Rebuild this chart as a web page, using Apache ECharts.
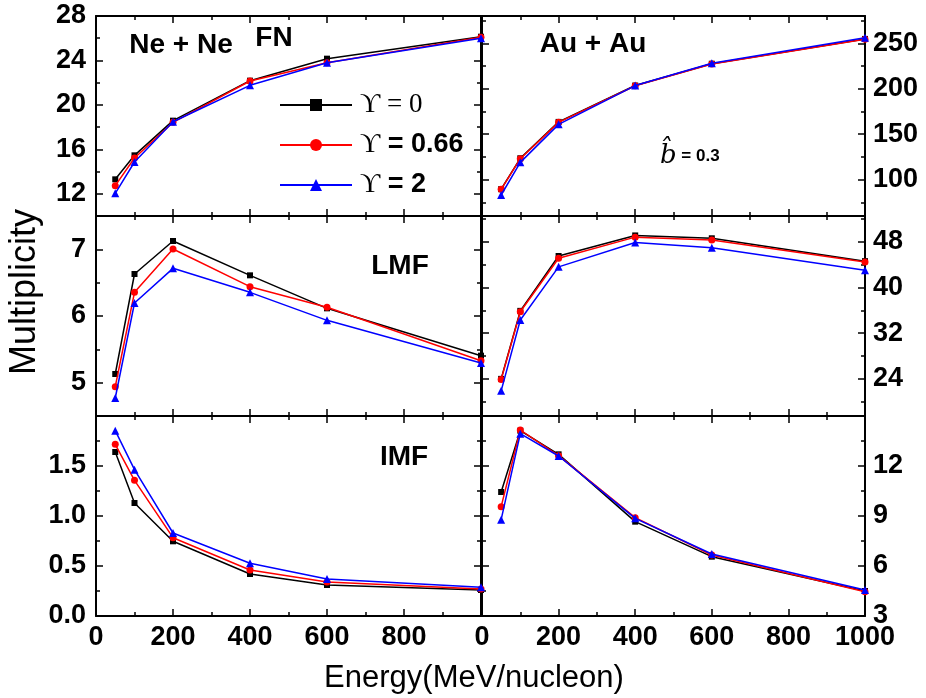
<!DOCTYPE html>
<html><head><meta charset="utf-8">
<script src="https://cdn.jsdelivr.net/npm/echarts@6/dist/echarts.min.js"></script>
<style>html,body{margin:0;padding:0;background:#fff}#c{width:926px;height:698px}</style>
</head><body><div id="c"></div>
<script>
// ---------------- data ----------------
const energy = [50, 100, 200, 400, 600, 1000];
const seriesNames = ['ϒ = 0', 'ϒ = 0.66', 'ϒ = 2'];
const seriesColors = ['#000000', '#ff0000', '#0000ff'];
const seriesSymbols = ['rect', 'circle', 'triangle'];

// Ne + Ne (left column)
const neFN_u0    = [13.3, 15.46, 18.58, 22.18, 24.16, 26.14];
const neFN_u066  = [12.73, 15.22, 18.43, 22.15, 23.8, 26.08];
const neFN_u2    = [12.04, 14.86, 18.48, 21.76, 23.8, 26.0];
const neLMF_u0   = [5.13, 6.63, 7.125, 6.61, 6.115, 5.405];
const neLMF_u066 = [4.94, 6.355, 7.005, 6.44, 6.13, 5.33];
const neLMF_u2   = [4.77, 6.195, 6.715, 6.355, 5.935, 5.295];
const neIMF_u0   = [1.64, 1.13, 0.747, 0.42, 0.31, 0.26];
const neIMF_u066 = [1.717, 1.357, 0.783, 0.46, 0.34, 0.27];
const neIMF_u2   = [1.853, 1.463, 0.83, 0.527, 0.37, 0.287];

// Au + Au (right column)
const auFN_u0    = [89.5, 123.5, 163.5, 203.5, 227.5, 254.8];
const auFN_u066  = [89.3, 123, 163, 203.3, 227.3, 254.3];
const auFN_u2    = [83.1, 119, 160.8, 203.5, 228, 256];
const auLMF_u0   = [24.0, 35.9, 45.5, 49.1, 48.6, 44.6];
const auLMF_u066 = [23.9, 35.75, 45.1, 48.8, 48.3, 44.45];
const auLMF_u2   = [21.9, 34.3, 43.6, 47.85, 46.95, 43.0];
const auIMF_u0   = [10.44, 14.12, 12.7, 8.66, 6.56, 4.5];
const auIMF_u066 = [9.56, 14.16, 12.62, 8.9, 6.66, 4.46];
const auIMF_u2   = [8.78, 13.94, 12.6, 8.86, 6.72, 4.56];

// axis ticks
const xTicksLeft  = [0, 200, 400, 600, 800];
const xTicksRight = [0, 200, 400, 600, 800, 1000];
const yMajorNeFN  = [12, 16, 20, 24, 28];     const yMinorNeFN  = [10, 14, 18, 22, 26];
const yMajorNeLMF = [5, 6, 7];                const yMinorNeLMF = [4.5, 5.5, 6.5, 7.5];
const yMajorNeIMF = [0, 0.5, 1.0, 1.5];       const yMinorNeIMF = [0.25, 0.75, 1.25, 1.75];
const yMajorAuFN  = [100, 150, 200, 250];     const yMinorAuFN  = [75, 125, 175, 225, 275];
const yMajorAuLMF = [24, 32, 40, 48];         const yMinorAuLMF = [20, 28, 36, 44, 52];
const yMajorAuIMF = [3, 6, 9, 12];            const yMinorAuIMF = [4.5, 7.5, 10.5, 13.5];
const yRange = {
  neFN: [10, 28], neLMF: [4.5, 7.5], neIMF: [0, 2],
  auFN: [60, 280], auLMF: [17.5, 52.5], auIMF: [3, 15]
};

// ---------------- build ----------------
const panels = [
  {col: 0, row: 0, key: 'neFN',  data: [neFN_u0, neFN_u066, neFN_u2],   major: yMajorNeFN,  minor: yMinorNeFN,  fmt: v => String(v)},
  {col: 1, row: 0, key: 'auFN',  data: [auFN_u0, auFN_u066, auFN_u2],   major: yMajorAuFN,  minor: yMinorAuFN,  fmt: v => String(v)},
  {col: 0, row: 1, key: 'neLMF', data: [neLMF_u0, neLMF_u066, neLMF_u2], major: yMajorNeLMF, minor: yMinorNeLMF, fmt: v => String(v)},
  {col: 1, row: 1, key: 'auLMF', data: [auLMF_u0, auLMF_u066, auLMF_u2], major: yMajorAuLMF, minor: yMinorAuLMF, fmt: v => String(v)},
  {col: 0, row: 2, key: 'neIMF', data: [neIMF_u0, neIMF_u066, neIMF_u2], major: yMajorNeIMF, minor: yMinorNeIMF, fmt: v => Number(v).toFixed(1)},
  {col: 1, row: 2, key: 'auIMF', data: [auIMF_u0, auIMF_u066, auIMF_u2], major: yMajorAuIMF, minor: yMinorAuIMF, fmt: v => String(v)}
];

const colLeft = [96, 482], colWidth = [385, 383];
const rowTop = [16, 216, 416], rowHeight = 200;
const lineSt = {color: '#000', width: 2};
const tickSt = {color: '#000', width: 1.5};
const labelFont = {color: '#000', fontSize: 27, fontWeight: 'bold', fontFamily: 'Liberation Sans, Arial, sans-serif'};

const grid = [], xAxis = [], yAxis = [], series = [];
panels.forEach((p, gi) => {
  grid.push({left: colLeft[p.col], top: rowTop[p.row], width: colWidth[p.col], height: rowHeight, containLabel: false});
  const bottomRow = p.row === 2;
  ['bottom', 'top'].forEach(pos => {
    xAxis.push({
      type: 'value', gridIndex: gi, position: pos, min: 0, max: 1000, interval: 200,
      axisLine: {show: true, onZero: false, lineStyle: lineSt},
      axisTick: {show: true, inside: true, length: 7, lineStyle: tickSt},
      minorTick: {show: true, splitNumber: 2, length: 4, lineStyle: tickSt},
      axisLabel: (pos === 'bottom' && bottomRow)
        ? Object.assign({show: true, margin: 8, customValues: p.col === 0 ? xTicksLeft : xTicksRight, formatter: v => String(v)}, labelFont)
        : {show: false},
      splitLine: {show: false}, minorSplitLine: {show: false}
    });
  });
  const [mn, mx] = yRange[p.key];
  const labelSide = p.col === 0 ? 'left' : 'right';
  const yStart = yAxis.length;
  ['left', 'right'].forEach(pos => {
    yAxis.push({
      type: 'value', gridIndex: gi, position: pos, min: mn, max: mx,
      axisLine: {show: true, onZero: false, lineStyle: lineSt},
      axisTick: {show: true, inside: true, length: 7, lineStyle: tickSt, customValues: p.major},
      axisLabel: pos === labelSide
        ? Object.assign({show: true, margin: pos === 'left' ? 10 : 8, customValues: p.major, formatter: p.fmt}, labelFont)
        : {show: false},
      splitLine: {show: false}
    });
    yAxis.push({
      type: 'value', gridIndex: gi, position: pos, min: mn, max: mx,
      axisLine: {show: false, onZero: false},
      axisTick: {show: true, inside: true, length: 4, lineStyle: tickSt, customValues: p.minor},
      axisLabel: {show: false},
      splitLine: {show: false}
    });
  });
  p.data.forEach((vals, si) => {
    series.push({
      type: 'line', name: seriesNames[si], xAxisIndex: gi * 2, yAxisIndex: yStart,
      data: energy.map((x, i) => [x, vals[i]]),
      symbol: seriesSymbols[si], symbolSize: si === 2 ? 8 : (si === 1 ? 7 : 6),
      showSymbol: true, clip: false,
      lineStyle: {width: 1.5, color: seriesColors[si]},
      itemStyle: {color: seriesColors[si]},
      emphasis: {disabled: true},
      animation: false, z: 2 + si
    });
  });
});

const boldSans = 'Liberation Sans, Arial, sans-serif';
function txt(text, x, y, size, weight) {
  return {type: 'text', x: x, y: y, style: {text: text, fill: '#000', font: weight + ' ' + size + 'px ' + boldSans, textAlign: 'center', textVerticalAlign: 'middle'}};
}

const option = {
  animation: false,
  backgroundColor: '#fff',
  grid, xAxis, yAxis, series,
  legend: {
    show: true, orient: 'vertical', left: 274, top: 86,
    itemWidth: 72, itemHeight: 15, itemGap: 12,
    data: seriesNames, selectedMode: false,
    formatter: name => {
      const rest = name.slice(1);
      return name === seriesNames[0] ? '{u|ϒ}{r|' + rest + '}' : '{u|ϒ}{b|' + rest + '}';
    },
    textStyle: {
      padding: [0, 0, 0, 3],
      rich: {
        u: {fontFamily: 'Liberation Serif, DejaVu Serif, serif', fontSize: 28, color: '#000', lineHeight: 28},
        r: {fontFamily: 'Liberation Serif, DejaVu Serif, serif', fontSize: 27, color: '#000', lineHeight: 28},
        b: {fontFamily: boldSans, fontSize: 27, fontWeight: 'bold', color: '#000', lineHeight: 28}
      }
    }
  },
  graphic: [
    txt('Ne + Ne', 181, 45, 28, 'bold'),
    txt('FN', 274, 38, 28, 'bold'),
    txt('Au + Au', 593, 44, 28, 'bold'),
    txt('LMF', 400, 266, 28, 'bold'),
    txt('IMF', 404, 457, 28, 'bold'),
    {type: 'text', x: 25, y: 292, rotation: Math.PI / 2,
     style: {text: 'Multiplicity', fill: '#000', font: 'normal 36px ' + boldSans, textAlign: 'center', textVerticalAlign: 'middle'}},
    {type: 'text', x: 474, y: 678,
     style: {text: 'Energy(MeV/nucleon)', fill: '#000', font: 'normal 31px ' + boldSans, textAlign: 'center', textVerticalAlign: 'middle'}},
    {type: 'text', x: 660, y: 156,
     style: {text: '{i|b\u0302}{t| = 0.3}', fill: '#000', textVerticalAlign: 'middle',
       rich: {i: {fontFamily: 'DejaVu Serif, serif', fontStyle: 'italic', fontSize: 26, fill: '#000'},
              t: {fontFamily: boldSans, fontWeight: 'bold', fontSize: 17, fill: '#000'}}}}
  ]
};

const chart = echarts.init(document.getElementById('c'), null, {renderer: 'canvas'});
chart.setOption(option);
</script>
</body></html>
